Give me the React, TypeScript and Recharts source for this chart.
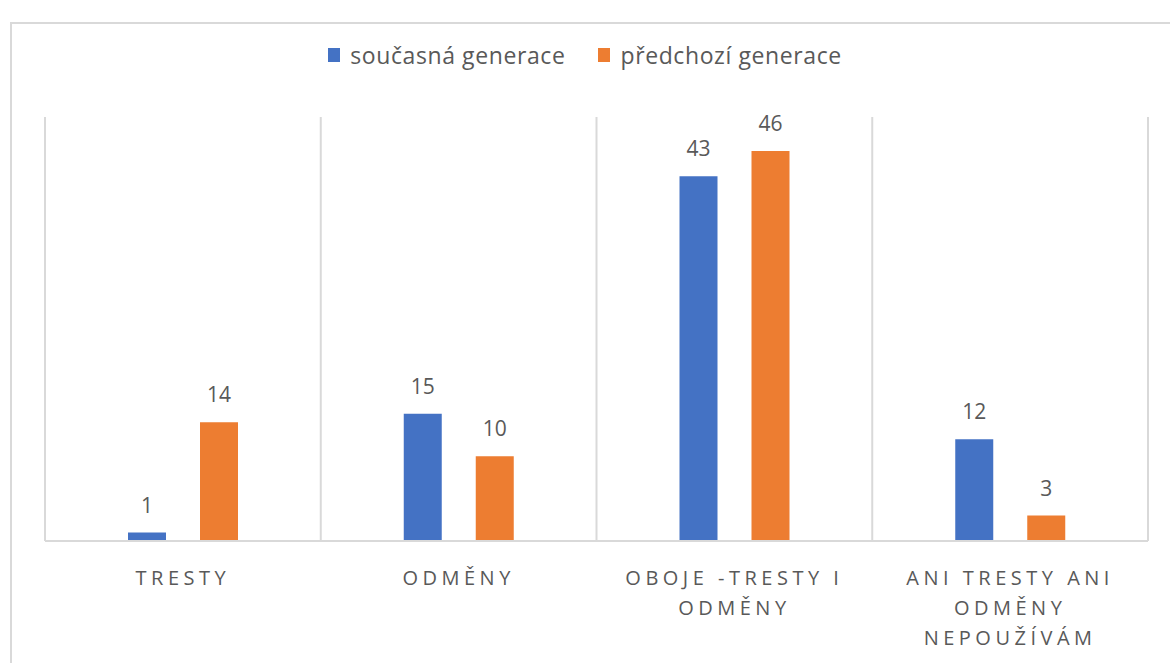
import React from 'react';
import { BarChart, Bar, XAxis, YAxis, CartesianGrid, LabelList } from 'recharts';

const categories = ['TRESTY', 'ODMĚNY', 'OBOJE -TRESTY I ODMĚNY', 'ANI TRESTY ANI ODMĚNY NEPOUŽÍVÁM'];
const currentGen = [1, 15, 43, 12];
const previousGen = [14, 10, 46, 3];
const seriesNames = ['současná generace', 'předchozí generace'];
const colors = ['#4472C4', '#ED7D31'];

const data = categories.map((name, i) => ({ name, current: currentGen[i], previous: previousGen[i] }));

const FONT = '"Open Sans", Lato, sans-serif';
const GREY = '#595959';

// break a label into lines of at most `max` characters
const wrap = (s: string, max = 15) => {
  const lines: string[] = [];
  let cur = '';
  s.split(' ').forEach((w) => {
    if (cur && (cur + ' ' + w).length > max) {
      lines.push(cur);
      cur = w;
    } else {
      cur = cur ? cur + ' ' + w : w;
    }
  });
  if (cur) lines.push(cur);
  return lines;
};

const CatTick = (props: any) => {
  const { x, y, payload } = props;
  const lines = wrap(String(payload.value));
  return (
    <text x={x} y={y} textAnchor="middle" fill={GREY} fontSize={20} fontFamily={FONT} letterSpacing={4.5}>
      {lines.map((l, i) => (
        <tspan key={i} x={x} dy={i === 0 ? 44 : 30}>{l}</tspan>
      ))}
    </text>
  );
};

const App: React.FC = () => {
  return (
    <div style={{ position: 'absolute', left: 0, top: 0, width: 1170, height: 663, overflow: 'hidden', background: '#fff' }}>
      <div style={{ position: 'absolute', left: 10, top: 22, width: 1300, height: 800, border: '2px solid #d9d9d9', boxSizing: 'border-box' }} />
      <div style={{ position: 'absolute', left: 0, top: 39, width: 1170, display: 'flex', justifyContent: 'center', gap: 33, fontFamily: FONT, fontSize: 23, letterSpacing: 0.6, color: GREY }}>
        {seriesNames.map((n, i) => (
          <div key={n} style={{ display: 'flex', alignItems: 'center' }}>
            <span style={{ display: 'inline-block', width: 12, height: 14, background: colors[i], marginRight: 10 }} />
            {n}
          </div>
        ))}
      </div>
      <div style={{ position: 'absolute', left: 0, top: 0 }}>
        <BarChart width={1170} height={663} data={data} margin={{ top: 117, right: 22, bottom: 12, left: 45 }}
          barCategoryGap="30%" barGap={34}>
          <CartesianGrid horizontal={false} stroke="#d9d9d9" strokeWidth={2}
            verticalCoordinatesGenerator={({ offset }: any) =>
              categories.map((_, i) => offset.left + (i * offset.width) / categories.length).concat(offset.left + offset.width)} />
          <XAxis dataKey="name" axisLine={{ stroke: '#d9d9d9', strokeWidth: 2 }} tickLine={false} tickSize={0} tickMargin={0}
            height={110} interval={0} tick={<CatTick />} />
          <YAxis hide domain={[0, 50]} />
          <Bar dataKey="current" name={seriesNames[0]} fill={colors[0]} barSize={38} isAnimationActive={false}>
            <LabelList dataKey="current" position="top" offset={20} fill={GREY} fontSize={21} fontFamily={FONT} />
          </Bar>
          <Bar dataKey="previous" name={seriesNames[1]} fill={colors[1]} barSize={38} isAnimationActive={false}>
            <LabelList dataKey="previous" position="top" offset={20} fill={GREY} fontSize={21} fontFamily={FONT} />
          </Bar>
        </BarChart>
      </div>
    </div>
  );
};

export default App;
